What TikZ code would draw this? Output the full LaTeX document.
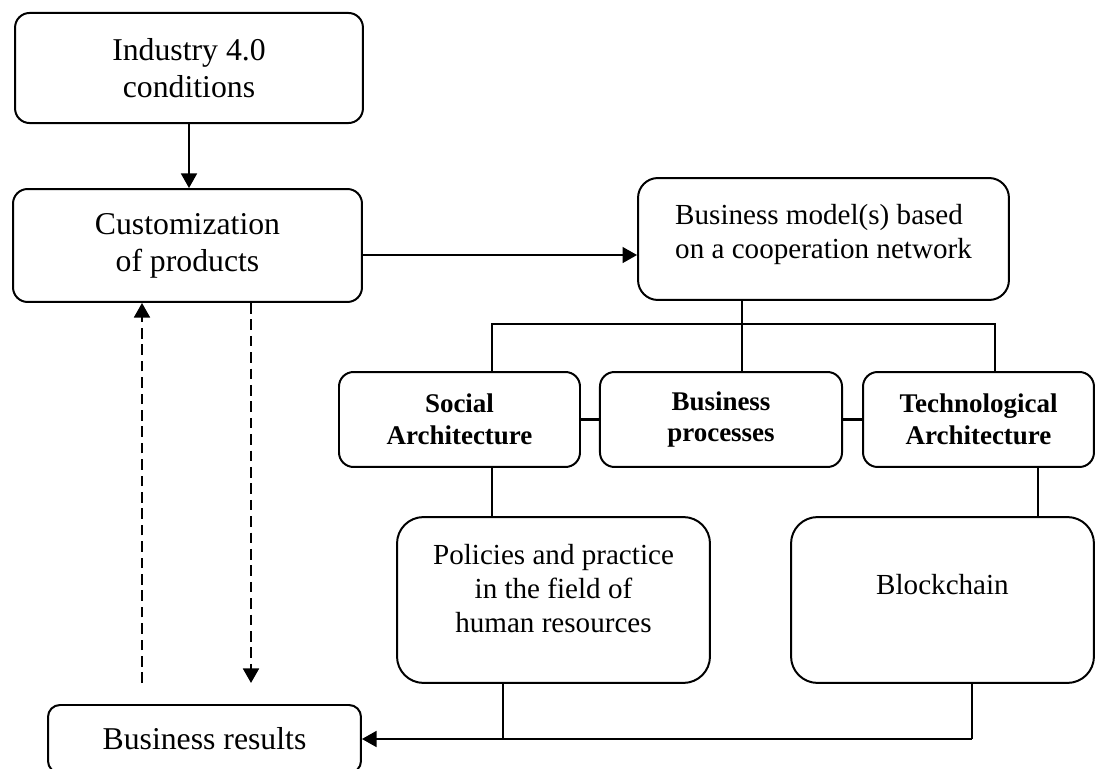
\documentclass[tikz,border=0pt]{standalone}
\usepackage{fontspec}
\setmainfont{Liberation Serif}
\usepackage{tikz}
\usetikzlibrary{arrows.meta,positioning,calc}

\begin{document}
\begin{tikzpicture}[
        x=0.378pt, y=-0.378pt,
        % Plain outlined boxes, text set like the body of the page.
        box/.style={rectangle, rounded corners=#1, draw, line width=0.75pt,
            align=center, inner sep=2pt, text=black,
            font=\fontsize{12}{13.9}\selectfont},
        box/.default=5.5pt,
        smallbox/.style={box=#1, font=\fontsize{11}{12.8}\selectfont},
        smallbox/.default=10pt,
        partbox/.style={box, font=\fontsize{10.2}{12}\selectfont\bfseries,
            minimum width=#1, minimum height=35.9pt},
        arr/.style={-{Triangle[length=5.5pt,width=6pt]}, line width=0.75pt},
        dasharr/.style={arr, line width=0.85pt, dash pattern=on 4pt off 2.2pt},
        link/.style={line width=0.5pt},
        thicklink/.style={line width=0.9pt}
    ]
        \useasboundingbox (0,0) rectangle (1096,769);

        \node[box, minimum width=131.5pt, minimum height=41.6pt] (ind) at (189,68) {Industry 4.0\\conditions};
        \node[box, minimum width=131.9pt, minimum height=42.7pt] (cust) at (187.5,245.5) {Customization\\of products};
        \node[smallbox=7.5pt, align=left, minimum width=140.2pt, minimum height=46.1pt,
            text depth=6pt] (bm) at (823.5,239) {Business model(s) based\\on a cooperation network};

        \node[partbox=91.1pt] (soc) at (459.5,419.5) {Social\\Architecture};
        \node[partbox=91.5pt] (proc) at (721,419.5) {Business\\processes};
        \node[partbox=87.3pt] (tech) at (978.5,419.5) {Technological\\Architecture};

        \node[smallbox, minimum width=118.3pt, minimum height=62.7pt, text depth=9pt] (hr) at (553.5,600) {Policies and practice\\in the field of\\human resources};
        \node[smallbox, minimum width=114.5pt, minimum height=62.7pt, text depth=12pt] (chain) at (942.5,600) {Blockchain};

        \node[box=4.5pt, minimum width=118.3pt, minimum height=25.7pt] (res) at (204.5,739) {Business results};

        % Connections
        \draw[arr] (ind.south) -- (ind.south |- cust.north);
        \draw[arr] ([yshift=-3.6pt]cust.east) -- ([yshift=-3.6pt]cust.east -| bm.west);

        % Tree under the business model
        \coordinate (hub) at (742,324);
        \coordinate (tl) at (492,324);
        \coordinate (tr) at (995,324);
        \draw[link] (hub |- bm.south) -- (hub |- proc.north);
        \draw[link] (tl |- soc.north) |- (tr) -- (tr |- tech.north);
        \draw[thicklink] (soc) -- (proc);
        \draw[thicklink] (proc) -- (tech);
        \draw[link] (tl |- soc.south) -- (tl |- hr.north);
        \draw[link] ([xshift=22.5pt]tech.south) -- ([xshift=22.5pt]tech.south |- chain.north);

        % Back to the results
        \coordinate (cb) at ([xshift=11.2pt]chain.south);
        \coordinate (hb) at ([xshift=-19.1pt]hr.south);
        \draw[link] (cb) -- (cb |- res.east);
        \draw[link] (hb) -- (hb |- res.east);
        \draw[arr] (cb |- res.east) -- (res.east);

        % Feedback (dashed)
        \coordinate (fb) at (142,683);
        \coordinate (ff) at (251,683);
        \draw[dasharr] (fb) -- (fb |- cust.south);
        \draw[dasharr] (ff |- cust.south) -- (ff);
    \end{tikzpicture}
\end{document}
